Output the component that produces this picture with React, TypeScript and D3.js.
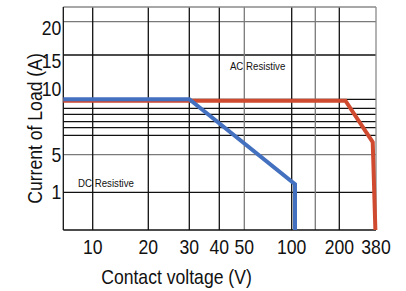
import React from 'react'
import { scaleLinear, line } from 'd3'

// x axis is a hand drawn, non uniform scale: value -> pixel by pieces
const xDomain = [5, 10, 20, 30, 40, 50, 100, 150, 200, 380]
const xTickLabels = [10, 20, 30, 40, 50, 100, 200, 380]
const xGrid = [10, 20, 30, 40, 50, 100, 150, 200]
const xGridGray = [50, 150]

const yDomain = [0, 1, 5, 6, 6.5, 7, 7.5, 8, 9, 10, 15, 20, 22]
const yTickLabels = [1, 5, 10, 15, 20]
const yGrid = [1, 5, 6, 6.5, 7, 7.5, 8, 9, 15, 20]
const yGridGray = [5, 20]

// DC Resistive (blue)
const dcVolt = [5, 30, 107, 107]
const dcAmp = [9, 9, 1.85, 0]
// AC Resistive (red)
const acVolt = [5, 230, 364, 377]
const acAmp = [8.85, 8.85, 5.65, 0]

// narrow text: Liberation Sans squeezed sideways
function NText({ x, y, size, anchor = 'middle', rotate = 0, children }: any) {
  return (
    <text transform={`translate(${x},${y}) rotate(${rotate}) scale(0.88,1)`} fontSize={size}
      textAnchor={anchor} dominantBaseline="central" fill="#111">{children}</text>
  )
}

export default function App() {
  const width = 406,
    height = 291
  const left = 63.3,
    right = 376,
    top = 7,
    bottom = 230

  const xPix = [left, 92.7, 148.3, 189.3, 219.3, 244.3, 291.7, 315.3, 339.3, right]
  const yPix = [bottom, 192.3, 154.7, 135.3, 127.7, 121.7, 114.3, 108.3, 99.3, 89, 55, 21.7, top]
  const x = scaleLinear().domain(xDomain).range(xPix)
  const y = scaleLinear().domain(yDomain).range(yPix)

  const path = line<number>()
  const dcPts = dcVolt.map((v, i) => [x(v), y(dcAmp[i])] as [number, number])
  const acPts = acVolt.map((v, i) => [x(v), y(acAmp[i])] as [number, number])

  return (
    <svg width={width} height={height} style={{ position: 'absolute', left: 0, top: 0, background: '#fff' }}
      fontFamily="'Liberation Sans', Arial, sans-serif">
      {/* grid */}
      {yGrid.map((v) => (
        <line key={'h' + v} x1={left} x2={right} y1={y(v)} y2={y(v)}
          stroke={yGridGray.includes(v) ? '#7a7a7a' : '#111'} strokeWidth={1.3} />
      ))}
      {xGrid.map((v) => (
        <line key={'v' + v} x1={x(v)} x2={x(v)} y1={top} y2={bottom}
          stroke={xGridGray.includes(v) ? '#7a7a7a' : '#111'} strokeWidth={1.3} />
      ))}
      <line x1={left} x2={right} y1={top} y2={top} stroke="#8a8a8a" strokeWidth={1.3} />
      <line x1={right} x2={right} y1={top} y2={bottom} stroke="#8a8a8a" strokeWidth={1.3} />
      <line x1={left} x2={left} y1={top} y2={bottom} stroke="#111" strokeWidth={1.3} />
      <line x1={left} x2={right} y1={bottom} y2={bottom} stroke="#111" strokeWidth={1.3} />

      {/* curves */}
      <path d={path(acPts) || ''} fill="none" stroke="#d04a30" strokeWidth={4} />
      <path d={path(dcPts) || ''} fill="none" stroke="#4470c0" strokeWidth={4} />

      <NText x={257.6} y={66} size={11}>AC Resistive</NText>
      <NText x={106} y={183.5} size={11}>DC Resistive</NText>

      {/* y ticks */}
      {yTickLabels.map((v) => (
        <NText key={'yl' + v} x={left - 2} y={y(v) + (v >= 15 ? 6.5 : 0)} size={20} anchor="end">{v}</NText>
      ))}
      {/* x ticks */}
      {xTickLabels.map((v) => (
        <NText key={'xl' + v} x={x(v)} y={247.5} size={20}>{v}</NText>
      ))}

      <NText x={176.5} y={277} size={20}>Contact voltage (V)</NText>
      <NText x={35} y={128.5} size={20} rotate={-90}>Current of Load (A)</NText>
    </svg>
  )
}
